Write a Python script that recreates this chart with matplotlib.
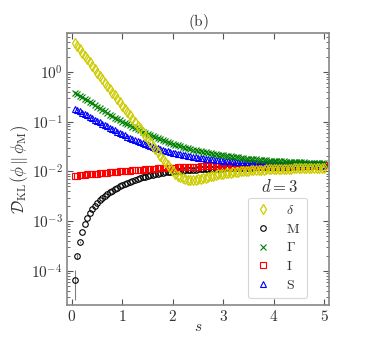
import numpy as np
import matplotlib
matplotlib.use("Agg")
import matplotlib.pyplot as plt

plt.rcParams["font.family"] = "serif"
plt.rcParams["font.serif"] = ["cmr10"]
plt.rcParams["mathtext.fontset"] = "cm"
plt.rcParams["axes.formatter.use_mathtext"] = True

# --- dati: s = 0.05 ... 5.00, passo 0.05 ---
s = np.arange(1, 101) * 0.05

delta = [3.80, 3.26, 2.80, 2.40, 2.06, 1.80, 1.57, 1.30, 1.12, 0.958,
         0.840, 0.730, 0.605, 0.519, 0.446, 0.382, 0.335, 0.290, 0.242, 0.207,
         0.178, 0.158, 0.135, 0.112, 0.0964, 0.0827, 0.0730, 0.0620, 0.0522, 0.0448,
         0.0385, 0.0330, 0.0283, 0.0243, 0.0208, 0.0179, 0.0153, 0.0132, 0.0115, 0.0101,
         0.0091, 0.0083, 0.0078, 0.0073, 0.0070, 0.0068, 0.0067, 0.0067, 0.0068, 0.00695,
         0.00713, 0.00733, 0.00755, 0.00778, 0.0080, 0.00824, 0.00847, 0.0087, 0.0089, 0.0091,
         0.0092, 0.0094, 0.0095, 0.0097, 0.0098, 0.0099, 0.0101, 0.0102, 0.0103, 0.0104,
         0.0105, 0.0106, 0.0107, 0.0108, 0.0108, 0.0109, 0.0110, 0.0110, 0.0111, 0.0111,
         0.0112, 0.0112, 0.0113, 0.0113, 0.0113, 0.0114, 0.0114, 0.0115, 0.0115, 0.0115,
         0.0116, 0.0116, 0.0116, 0.0117, 0.0117, 0.0117, 0.0117, 0.0118, 0.0118, 0.0118]

M = [6.7e-5, 2.0e-4, 3.9e-4, 6.2e-4, 8.9e-4, 1.17e-3, 1.45e-3, 1.75e-3, 2.05e-3, 2.35e-3,
     2.65e-3, 2.95e-3, 3.25e-3, 3.55e-3, 3.85e-3, 4.15e-3, 4.45e-3, 4.75e-3, 5.05e-3, 5.35e-3,
     5.65e-3, 5.95e-3, 6.25e-3, 6.55e-3, 6.85e-3, 7.1e-3, 7.4e-3, 7.65e-3, 7.9e-3, 8.15e-3,
     8.4e-3, 8.6e-3, 8.8e-3, 9.0e-3, 9.2e-3, 9.4e-3, 9.55e-3, 9.7e-3, 9.85e-3, 1.0e-2,
     1.01e-2, 1.02e-2, 1.03e-2, 1.04e-2, 1.05e-2, 1.06e-2, 1.07e-2, 1.08e-2, 1.09e-2, 1.10e-2,
     1.105e-2, 1.11e-2, 1.115e-2, 1.12e-2, 1.125e-2, 1.13e-2, 1.135e-2, 1.14e-2, 1.145e-2, 1.15e-2,
     1.155e-2, 1.16e-2, 1.165e-2, 1.17e-2, 1.175e-2, 1.18e-2, 1.185e-2, 1.19e-2, 1.195e-2, 1.20e-2,
     1.20e-2, 1.205e-2, 1.21e-2, 1.21e-2, 1.215e-2, 1.22e-2, 1.22e-2, 1.225e-2, 1.23e-2, 1.23e-2,
     1.23e-2, 1.235e-2, 1.24e-2, 1.24e-2, 1.24e-2, 1.245e-2, 1.25e-2, 1.25e-2, 1.25e-2, 1.255e-2,
     1.26e-2, 1.26e-2, 1.26e-2, 1.265e-2, 1.265e-2, 1.27e-2, 1.27e-2, 1.27e-2, 1.275e-2, 1.28e-2]
M_err = [4.0e-5, 2.5e-5, 1.5e-5] + [0.0] * 97

Gamma = [0.380, 0.355, 0.332, 0.310, 0.290, 0.270, 0.252, 0.234, 0.217, 0.200,
         0.187, 0.174, 0.161, 0.149, 0.138, 0.129, 0.120, 0.113, 0.106, 0.100,
         0.094, 0.089, 0.084, 0.079, 0.075, 0.071, 0.067, 0.063, 0.060, 0.057,
         0.054, 0.052, 0.049, 0.047, 0.045, 0.043, 0.041, 0.039, 0.0375, 0.036,
         0.0347, 0.0335, 0.0323, 0.0312, 0.0301, 0.0292, 0.0283, 0.0275, 0.0267, 0.0260,
         0.0253, 0.0247, 0.0241, 0.0235, 0.0230, 0.0225, 0.0221, 0.0217, 0.0213, 0.0210,
         0.0206, 0.0203, 0.0200, 0.0197, 0.0194, 0.0191, 0.0188, 0.0185, 0.0182, 0.0180,
         0.0178, 0.0176, 0.0174, 0.0172, 0.0170, 0.0169, 0.0167, 0.0166, 0.0164, 0.0163,
         0.0162, 0.0161, 0.0160, 0.0159, 0.0158, 0.0157, 0.0156, 0.0155, 0.0154, 0.0153,
         0.0152, 0.0152, 0.0151, 0.0150, 0.0150, 0.0149, 0.0149, 0.0148, 0.0148, 0.0147]

I_ = [0.0082, 0.0083, 0.0084, 0.0085, 0.0086, 0.0087, 0.0088, 0.0089, 0.0090, 0.0091,
      0.0092, 0.0093, 0.0094, 0.0095, 0.0096, 0.0097, 0.0098, 0.0099, 0.0100, 0.0101,
      0.0102, 0.0103, 0.0104, 0.0105, 0.0106, 0.0107, 0.0108, 0.0109, 0.0110, 0.0111,
      0.0112, 0.0113, 0.0114, 0.0115, 0.0116, 0.0117, 0.0117, 0.0118, 0.0119, 0.0120,
      0.0120, 0.0121, 0.0122, 0.0122, 0.0123, 0.0123, 0.0124, 0.0124, 0.0125, 0.0125,
      0.0126, 0.0126, 0.0126, 0.0127, 0.0127, 0.0127, 0.0128, 0.0128, 0.0128, 0.0129,
      0.0129, 0.0129, 0.0129, 0.0130, 0.0130, 0.0130, 0.0130, 0.0130, 0.0131, 0.0131,
      0.0131, 0.0131, 0.0131, 0.0131, 0.0131, 0.0132, 0.0132, 0.0132, 0.0132, 0.0132,
      0.0132, 0.0132, 0.0132, 0.0132, 0.0132, 0.0132, 0.0132, 0.0132, 0.0132, 0.0132,
      0.0133, 0.0133, 0.0133, 0.0133, 0.0133, 0.0133, 0.0133, 0.0133, 0.0133, 0.0133]

S = [0.180, 0.170, 0.160, 0.150, 0.141, 0.133, 0.125, 0.117, 0.110, 0.103,
     0.097, 0.091, 0.085, 0.080, 0.075, 0.071, 0.067, 0.063, 0.059, 0.056,
     0.053, 0.050, 0.048, 0.045, 0.043, 0.041, 0.039, 0.037, 0.0355, 0.034,
     0.0326, 0.0313, 0.0301, 0.0290, 0.0280, 0.0270, 0.0261, 0.0253, 0.0245, 0.0238,
     0.0232, 0.0226, 0.0220, 0.0215, 0.0210, 0.0205, 0.0201, 0.0197, 0.0193, 0.0190,
     0.0187, 0.0184, 0.0181, 0.0178, 0.0176, 0.0174, 0.0172, 0.0170, 0.0168, 0.0166,
     0.0164, 0.0163, 0.0161, 0.0160, 0.0158, 0.0157, 0.0156, 0.0155, 0.0154, 0.0153,
     0.0152, 0.0151, 0.0150, 0.0149, 0.0148, 0.0148, 0.0147, 0.0146, 0.0146, 0.0145,
     0.0145, 0.0144, 0.0144, 0.0143, 0.0143, 0.0142, 0.0142, 0.0142, 0.0141, 0.0141,
     0.0141, 0.0140, 0.0140, 0.0140, 0.0139, 0.0139, 0.0139, 0.0139, 0.0138, 0.0138]

labels = [r"$\delta$", r"$\mathrm{M}$", r"$\Gamma$", r"$\mathrm{I}$", r"$\mathrm{S}$"]

# --- figura ---
fig = plt.figure(figsize=(3.74, 3.40), dpi=100)
ax = fig.add_axes([0.179, 0.103, 0.701, 0.800])

ms = 4.0
err_M = ax.errorbar(s, M, yerr=M_err, fmt='o', mfc='none', mec='black', ms=ms, mew=0.8,
                    ecolor='gray', elinewidth=0.8, capsize=0, zorder=2)
h_M = err_M[0]
h_I, = ax.plot(s, I_, 's', mfc='none', mec='red', ms=ms, mew=0.8, zorder=3)
h_S, = ax.plot(s, S, '^', mfc='none', mec='blue', ms=ms, mew=0.8, zorder=4)
h_G, = ax.plot(s, Gamma, 'x', color='green', ms=ms, mew=0.8, zorder=5)
h_d, = ax.plot(s, delta, 'd', mfc='none', mec='#cccc00', ms=ms + 1, mew=0.9, zorder=6)

ax.set_yscale('log')
ax.set_xlim(-0.1, 5.1)
ax.set_ylim(2.1e-5, 6.0)
ax.set_xticks([0, 1, 2, 3, 4, 5])
ax.set_xticklabels([r"$%d$" % v for v in range(6)])
ax.set_yticks([1e-4, 1e-3, 1e-2, 1e-1, 1e0])

ax.tick_params(which='both', direction='in', top=True, right=True, labelsize=11, colors='#555555',
               labelcolor='#333333')
ax.tick_params(which='major', length=4, width=0.8, pad=3)
ax.tick_params(which='minor', length=2, width=0.6)
for sp in ax.spines.values():
    sp.set_color('#888888')
    sp.set_linewidth(1.2)

ax.set_xlabel(r"$s$", fontsize=11, color='#333333', labelpad=-3)
ax.set_ylabel(r"$\mathcal{D}_{\mathrm{KL}}(\phi\,\|\,\phi_{\mathrm{M}})$", fontsize=12,
              color='#333333', labelpad=0)
ax.set_title(r"$\mathrm{(b)}$", fontsize=11, pad=5, color='#333333')

leg = ax.legend([h_d, h_M, h_G, h_I, h_S], labels, loc='upper right',
                bbox_to_anchor=(0.915, 0.395), fontsize=10, frameon=True, fancybox=True,
                handletextpad=1.0, labelspacing=0.42, borderpad=0.45, handlelength=1.3,
                borderaxespad=0.0)
leg.get_frame().set_edgecolor('#cccccc')
leg.get_frame().set_linewidth(0.8)
for t in leg.get_texts():
    t.set_color('#333333')

ax.text(0.81, 0.435, r"$d = 3$", transform=ax.transAxes, ha='center', va='center',
        fontsize=12, color='#333333')

fig.savefig("out.png", dpi=100)
